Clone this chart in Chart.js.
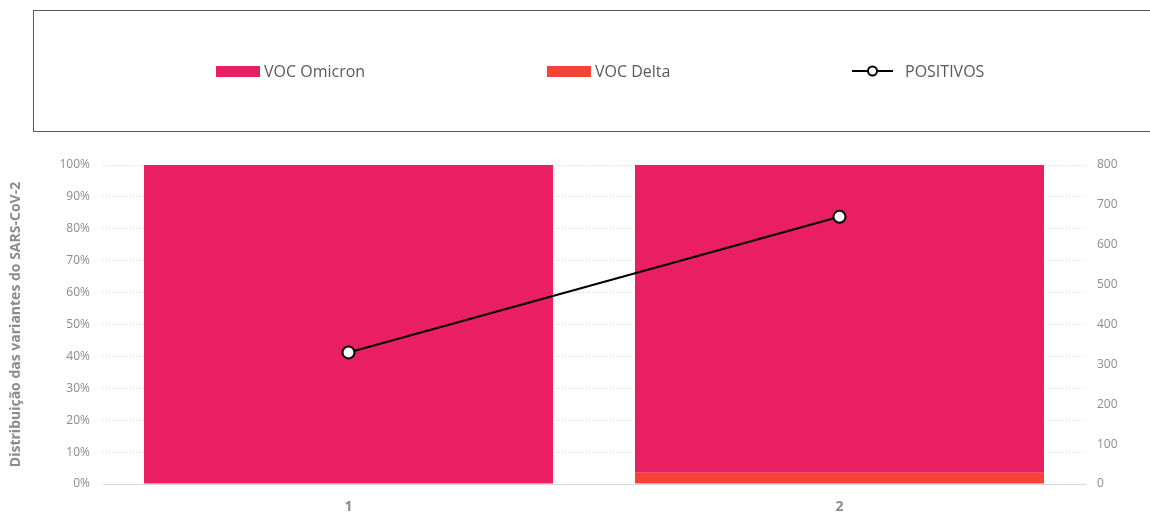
<!DOCTYPE html>
<html>
<head>
<meta charset="utf-8">
<script src="https://cdn.jsdelivr.net/npm/chart.js@4"></script>
<style>
  html, body { margin: 0; padding: 0; background: #fff; width: 1150px; height: 516px; overflow: hidden; }
  #wrap { position: relative; width: 1150px; height: 516px; }
  #c { position: absolute; left: 0; top: 0; }
  #legendBox { position: absolute; left: 33px; top: 10px; width: 1130px; height: 122px; border: 1px solid #595959; border-width: 1.5px; box-sizing: border-box; }
  .item { position: absolute; top: 61px; font-family: "Open Sans", sans-serif; font-size: 16px; color: #595959; line-height: 20px; display: flex; align-items: center; white-space: nowrap; }
  .sw { display: inline-block; width: 44px; height: 11px; margin-right: 4px; }
</style>
</head>
<body>
<div id="wrap">
  <canvas id="c" width="1150" height="516"></canvas>
  <div id="legendBox"></div>
  <div class="item" style="left:216px"><span class="sw" style="background:#E91E63"></span>VOC Omicron</div>
  <div class="item" style="left:547px"><span class="sw" style="background:#F44336"></span>VOC Delta</div>
  <div class="item" style="left:852px">
    <svg width="41" height="14" style="margin-right:12px"><line x1="0" y1="7" x2="41" y2="7" stroke="#000" stroke-width="2"/><circle cx="20.5" cy="7" r="4.5" fill="#fff" stroke="#000" stroke-width="2"/></svg>POSITIVOS</div>
</div>
<script>
const categories = ["1", "2"];
const omicronPct = [100, 96.5];
const deltaPct = [0, 3.5];
const positivos = [330, 670];
const leftTicks = [0, 10, 20, 30, 40, 50, 60, 70, 80, 90, 100];
const rightTicks = [0, 100, 200, 300, 400, 500, 600, 700, 800];

const FONT = "'Open Sans', sans-serif";
const TICK = "#8c8c8c";

new Chart(document.getElementById('c'), {
  data: {
    labels: categories,
    datasets: [
      {
        type: 'line', label: 'POSITIVOS', data: positivos, yAxisID: 'y1', order: 0,
        borderColor: '#000', borderWidth: 2, backgroundColor: '#fff',
        pointRadius: 6, pointHoverRadius: 6, pointBorderWidth: 2, pointBackgroundColor: '#fff', pointBorderColor: '#000',
        tension: 0
      },
      {
        type: 'bar', label: 'VOC Delta', data: deltaPct, yAxisID: 'y', order: 1,
        backgroundColor: '#F44336', borderWidth: 0, stack: 's'
      },
      {
        type: 'bar', label: 'VOC Omicron', data: omicronPct, yAxisID: 'y', order: 1,
        backgroundColor: '#E91E63', borderWidth: 0, stack: 's'
      }
    ]
  },
  options: {
    responsive: false, animation: false,
    layout: { padding: { top: 165, left: 0, right: 0, bottom: 0 } },
    plugins: { legend: { display: false }, tooltip: { enabled: false } },
    datasets: { bar: { barPercentage: 1, categoryPercentage: 0.833 } },
    scales: {
      x: {
        stacked: true,
        grid: { display: false, drawTicks: false },
        border: { display: true, color: '#d9d9d9', width: 1 },
        ticks: { color: TICK, font: { family: FONT, size: 14, weight: 'bold' }, padding: 15 },
        afterFit(s) { s.height = 32; }
      },
      y: {
        position: 'left', stacked: true, min: 0, max: 100,
        afterBuildTicks(s) { s.ticks = leftTicks.map(v => ({ value: v })); },
        ticks: { color: TICK, font: { family: FONT, size: 12 }, padding: 13, callback: v => v + '%' },
        grid: { color: '#d9d9d9', borderDash: [1, 2], drawTicks: false, lineWidth: 1 },
        border: { display: false, dash: [1, 2] },
        title: { display: true, text: 'Distribuição das variantes do SARS-CoV-2', color: TICK, font: { family: FONT, size: 14, weight: 'bold' }, padding: { top: 8, bottom: 0 } },
        afterFit(s) { s.width = 103; }
      },
      y1: {
        position: 'right', min: 0, max: 800,
        afterBuildTicks(s) { s.ticks = rightTicks.map(v => ({ value: v })); },
        ticks: { color: TICK, font: { family: FONT, size: 12 }, padding: 12 },
        grid: { display: false, drawTicks: false },
        border: { display: false },
        afterFit(s) { s.width = 65; }
      }
    }
  }
});
</script>
</body>
</html>
